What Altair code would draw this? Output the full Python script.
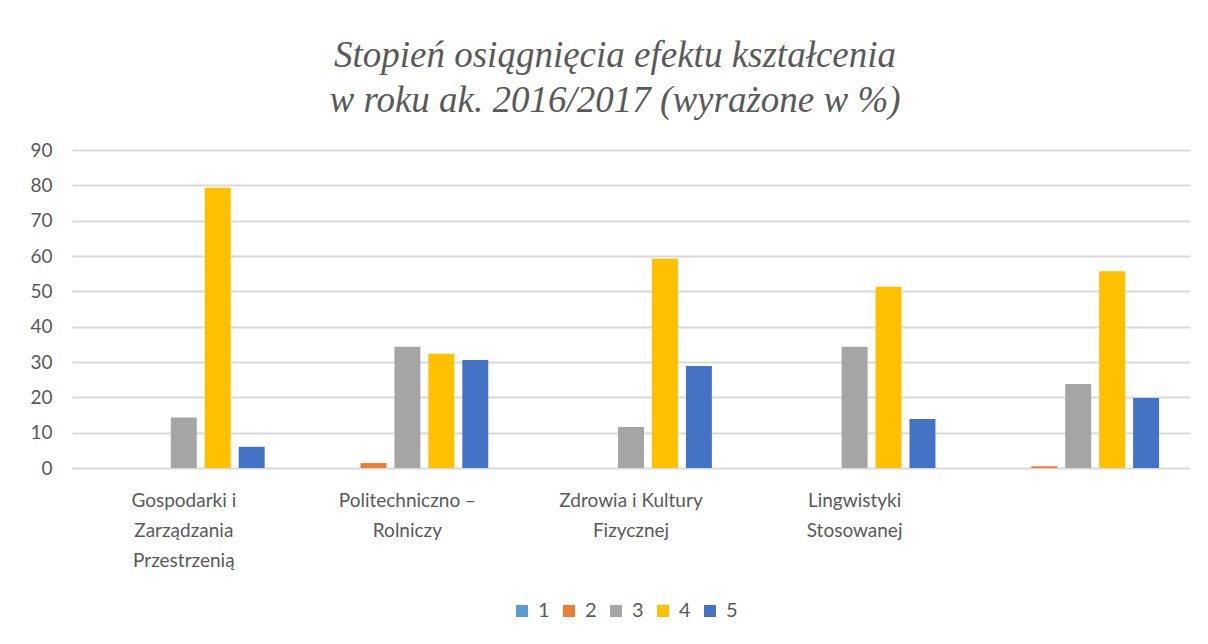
import altair as alt
import pandas as pd

categories = ["Gospodarki i|Zarządzania|Przestrzenią", "Politechniczno –|Rolniczy",
              "Zdrowia i Kultury|Fizycznej", "Lingwistyki|Stosowanej", " "]
series = ["1", "2", "3", "4", "5"]
colors = ["#5B9BD5", "#ED7D31", "#A5A5A5", "#FFC000", "#4472C4"]
s1 = [0, 0, 0, 0, 0]
s2 = [0, 1.4, 0, 0, 0.5]
s3 = [14.3, 34.3, 11.6, 34.3, 23.8]
s4 = [79.3, 32.3, 59.2, 51.3, 55.7]
s5 = [6.0, 30.6, 28.9, 13.9, 19.8]
yticks = [0, 10, 20, 30, 40, 50, 60, 70, 80, 90]

rows = []
for name, vals in zip(series, [s1, s2, s3, s4, s5]):
    for c, v in zip(categories, vals):
        rows.append({"cat": c, "ser": name, "val": v})
df = pd.DataFrame(rows)

font = "Lato"
grey = "#595959"

chart = alt.Chart(df).mark_bar().encode(
    x=alt.X("cat:N", sort=categories, title=None,
            scale=alt.Scale(paddingInner=0, paddingOuter=0),
            axis=alt.Axis(labelAngle=0, ticks=False, domain=False, grid=False,
                          labelExpr="split(datum.label, '|')",
                          labelFont=font, labelFontSize=19, labelColor=grey,
                          labelPadding=23, labelLineHeight=30, labelBaseline="top")),
    xOffset=alt.XOffset("ser:N", sort=series,
                        scale=alt.Scale(paddingInner=0.235, paddingOuter=0.912)),
    y=alt.Y("val:Q", title=None,
            scale=alt.Scale(domain=[0, 90]),
            axis=alt.Axis(values=yticks, ticks=False, domain=False,
                          labelFont=font, labelFontSize=19, labelColor=grey,
                          labelPadding=20, gridColor="#D9D9D9", gridWidth=2)),
    color=alt.Color("ser:N", sort=series,
                    scale=alt.Scale(domain=series, range=colors),
                    legend=alt.Legend(title=None, orient="none", direction="horizontal",
                                      legendX=440, legendY=451,
                                      symbolType="square", symbolSize=144,
                                      symbolStrokeWidth=0,
                                      labelFont=font, labelFontSize=20, labelColor=grey,
                                      columnPadding=9, labelOffset=6)),
).properties(
    width=1118, height=318,
    background="white",
    autosize=alt.AutoSizeParams(type="none"),
    padding={"left": 64, "top": 142, "right": 10, "bottom": 170},
    title=alt.Title(["Stopień osiągnięcia efektu kształcenia",
                     "w roku ak. 2016/2017 (wyrażone w %)"],
                    font="Liberation Serif", fontStyle="italic", fontWeight="normal",
                    fontSize=37, color=grey, lineHeight=45, offset=21, dx=-16,
                    anchor="middle"),
).configure_view(stroke=None, strokeWidth=0)

chart.save("out.html", embed_options={"renderer": "svg", "actions": False})
